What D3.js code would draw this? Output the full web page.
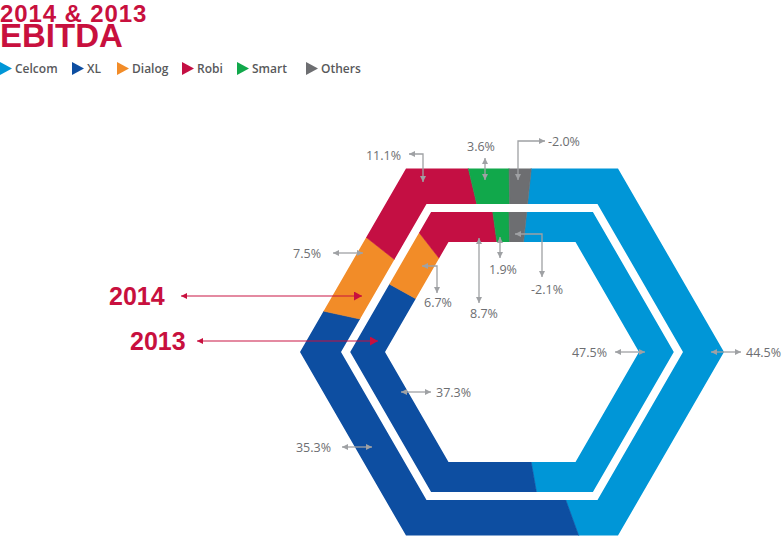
<!DOCTYPE html>
<html><head><meta charset="utf-8">
<script src="https://cdn.jsdelivr.net/npm/d3@7"></script>
<style>body{margin:0;background:#fff}svg{display:block}</style>
</head><body>
<svg id="chart" width="783" height="536"></svg>
<script>
// ---------- DATA ----------
const companies = ["Celcom", "XL", "Dialog", "Robi", "Smart", "Others"];
const years = ["2014", "2013"];
const ebitda2014 = [44.5, 35.3, 7.5, 11.1, 3.6, -2.0];
const ebitda2013 = [47.5, 37.3, 6.7, 8.7, 1.9, -2.1];
const titleLines = ["2014 & 2013", "EBITDA"];

// ---------- STYLE / LAYOUT ----------
const colors = ["#0096d7", "#0d4ea1", "#f28c28", "#c40f43", "#11a84b", "#6d6e71"];
const crimson = "#c8103e";
const W = 783, H = 536, cx = 512, cy = 352;
const rings = {
  "2014": {values: ebitda2014, outer: 212, inner: 171, rot: 6},
  "2013": {values: ebitda2013, outer: 161.8, inner: 127, rot: 6}
};
const legendX = [0, 72, 117, 182, 237, 306];
// callout routes relative to chart centre: points [dx,dy], label position & anchor
const callouts = {
  "2014": [
    {pts: [[229, 0], [199, 0]], lab: [234, 0], anchor: "start"},
    {pts: [[-170, 95], [-140, 95]], lab: [-181, 95], anchor: "end"},
    {pts: [[-179, -99], [-149, -99]], lab: [-191, -99], anchor: "end"},
    {pts: [[-103, -198], [-89, -198], [-89, -170]], lab: [-111, -197], anchor: "end"},
    {pts: [[-27, -194], [-27, -172]], lab: [-31, -206], anchor: "middle"},
    {pts: [[6, -172], [6, -211], [33, -211]], lab: [36, -210.5], anchor: "start"}
  ],
  "2013": [
    {pts: [[103, 0], [133, 0]], lab: [95, 0], anchor: "end"},
    {pts: [[-111, 40], [-81, 40]], lab: [-76, 40], anchor: "start"},
    {pts: [[-90, -86], [-75, -86], [-75, -59]], lab: [-74, -50], anchor: "middle"},
    {pts: [[-33, -114], [-33, -49]], lab: [-28, -39], anchor: "middle"},
    {pts: [[-12, -115], [-12, -94]], lab: [-9, -83], anchor: "middle"},
    {pts: [[3, -118], [30, -118], [30, -75]], lab: [35, -63], anchor: "middle"}
  ]
};
const yearArrows = {"2014": {x0: 181, x1: 362, y: 296, tx: 109},
                    "2013": {x0: 197, x1: 378, y: 341, tx: 130}};

const svg = d3.select("#chart");
const defs = svg.append("defs");

// markers
defs.append("marker").attr("id", "ga").attr("viewBox", "0 0 6 6")
  .attr("refX", 6).attr("refY", 3).attr("markerWidth", 6).attr("markerHeight", 6)
  .attr("markerUnits", "userSpaceOnUse").attr("orient", "auto-start-reverse")
  .append("path").attr("d", "M0,0L6,3L0,6Z").attr("fill", "#9fa1a4");
defs.append("marker").attr("id", "ys").attr("viewBox", "0 0 6 6")
  .attr("refX", 6).attr("refY", 3).attr("markerWidth", 6).attr("markerHeight", 6)
  .attr("markerUnits", "userSpaceOnUse").attr("orient", "auto-start-reverse")
  .append("path").attr("d", "M0,0L6,3L0,6Z").attr("fill", crimson);
defs.append("marker").attr("id", "yb").attr("viewBox", "0 0 8 9")
  .attr("refX", 8).attr("refY", 4.5).attr("markerWidth", 8).attr("markerHeight", 9)
  .attr("markerUnits", "userSpaceOnUse").attr("orient", "auto")
  .append("path").attr("d", "M0,0L8,4.5L0,9Z").attr("fill", crimson);

function hexPath(R) {
  const pts = d3.range(6).map(i => {
    const a = i * Math.PI / 3;
    return [cx + R * Math.cos(a), cy + R * Math.sin(a)];
  });
  return "M" + pts.map(p => p.join(",")).join("L") + "Z";
}

const pie = d3.pie().sort(null).value(d => Math.abs(d));

years.forEach(y => {
  const r = rings[y];
  const clipId = "clip" + y;
  defs.append("clipPath").attr("id", clipId)
    .append("path").attr("d", hexPath(r.outer) + hexPath(r.inner))
    .attr("clip-rule", "evenodd");
  const rot = r.rot * Math.PI / 180;
  const arcs = pie.startAngle(rot).endAngle(rot + 2 * Math.PI)(r.values);
  const arc = d3.arc().innerRadius(0).outerRadius(r.outer + 30);
  svg.append("g").attr("clip-path", `url(#${clipId})`)
    .selectAll("path").data(arcs).join("path")
    .attr("d", arc)
    .attr("transform", `translate(${cx},${cy})`)
    .attr("fill", (d, i) => colors[i])
    .attr("stroke", (d, i) => colors[i]).attr("stroke-width", 0.6);
});

// callouts
const line = d3.line();
years.forEach(y => {
  const r = rings[y];
  const g = svg.append("g");
  callouts[y].forEach((c, i) => {
    g.append("path")
      .attr("d", line(c.pts.map(p => [cx + p[0], cy + p[1]])))
      .attr("fill", "none").attr("stroke", "#9fa1a4").attr("stroke-width", 1.3)
      .attr("marker-start", "url(#ga)").attr("marker-end", "url(#ga)");
    g.append("text")
      .attr("x", cx + c.lab[0]).attr("y", cy + c.lab[1])
      .attr("dy", "0.36em")
      .attr("text-anchor", c.anchor)
      .attr("font-family", "'Open Sans', sans-serif")
      .attr("font-size", 12.5).attr("fill", "#6d6e71")
      .text(r.values[i].toFixed(1) + "%");
  });
});

// year arrows
years.forEach(y => {
  const a = yearArrows[y];
  svg.append("line")
    .attr("x1", a.x0).attr("x2", a.x1).attr("y1", a.y).attr("y2", a.y)
    .attr("stroke", crimson).attr("stroke-opacity", 0.65).attr("stroke-width", 1.5)
    .attr("marker-start", "url(#ys)").attr("marker-end", "url(#yb)");
  svg.append("text").attr("x", a.tx).attr("y", a.y + 8.8)
    .attr("font-family", "'Liberation Sans', Arial, sans-serif")
    .attr("font-weight", 700).attr("font-size", 25).attr("fill", crimson)
    .text(y);
});

// title (one text element, two lines)
const title = svg.append("text")
  .attr("font-family", "'Liberation Sans', Arial, sans-serif")
  .attr("font-weight", 700).attr("fill", crimson);
title.append("tspan").attr("x", 0).attr("y", 21.5).attr("font-size", 24)
  .attr("letter-spacing", 0.9).text(titleLines[0]);
title.append("tspan").attr("x", 0).attr("y", 47).attr("font-size", 33).text(titleLines[1]);

// legend
const leg = svg.append("g").selectAll("g").data(companies).join("g")
  .attr("transform", (d, i) => `translate(${legendX[i]},68.5)`);
leg.append("path").attr("d", "M0,-6.5L12,0L0,6.5Z").attr("fill", (d, i) => colors[i]);
leg.append("text").attr("x", 15).attr("dy", "0.36em")
  .attr("font-family", "'Open Sans', sans-serif").attr("font-weight", 600)
  .attr("font-size", 12).attr("fill", "#58595b").text(d => d);
</script>
</body></html>
